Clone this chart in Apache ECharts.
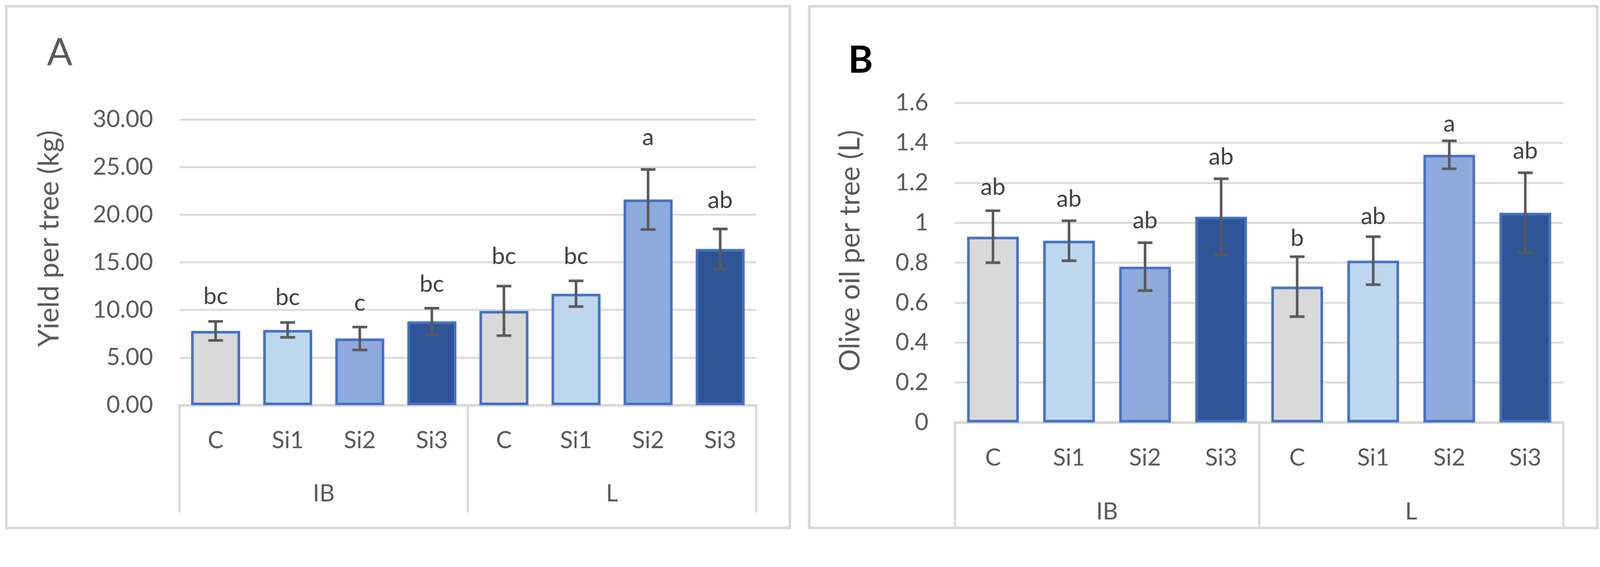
<!DOCTYPE html>
<html>
<head>
<meta charset="utf-8">
<script src="https://cdn.jsdelivr.net/npm/echarts@6/dist/echarts.min.js"></script>
<style>
  html, body { margin: 0; padding: 0; background: #ffffff; overflow: hidden; }
  #chart { width: 4340px; height: 1452px; transform-origin: 0 0; }
</style>
</head>
<body>
<div id="chart"></div>
<script>
// ---- data ----
const categories = ['C', 'Si1', 'Si2', 'Si3', 'C', 'Si1', 'Si2', 'Si3'];
const groups = ['IB', 'L'];

const yieldMean = [7.8, 7.9, 7.0, 8.8, 9.9, 11.7, 21.6, 16.4];
const yieldErr = [1.0, 0.78, 1.2, 1.38, 2.6, 1.35, 3.15, 2.1];
const yieldLetters = ['bc', 'bc', 'c', 'bc', 'bc', 'bc', 'a', 'ab'];
// value (in kg) at which each significance letter sits
const yieldLetterAt = [11.4, 11.3, 10.7, 12.7, 15.6, 15.6, 28.1, 21.5];

const oilMean = [0.93, 0.91, 0.78, 1.03, 0.68, 0.81, 1.34, 1.05];
const oilErr = [0.13, 0.10, 0.12, 0.19, 0.15, 0.12, 0.07, 0.20];
const oilLetters = ['ab', 'ab', 'ab', 'ab', 'b', 'ab', 'a', 'ab'];
// value (in L) at which each significance letter sits
const oilLetterAt = [1.177, 1.118, 1.011, 1.33, 0.922, 1.031, 1.494, 1.359];

const yieldAxis = { min: 0, max: 30, interval: 5 };
const oilAxis = { min: 0, max: 1.6, interval: 0.2 };

const panelTitles = ['A', 'B'];
const yTitles = ['Yield per tree (kg)', 'Olive oil per tree (L)'];

// ---- fit the 4340x1452 design to the actual viewport ----
const W = 4340, H = 1452;
const scale = Math.min(window.innerWidth / W, window.innerHeight / H);
const dom = document.getElementById('chart');
if (Math.abs(scale - 1) > 0.001) dom.style.transform = 'scale(' + scale + ')';

// ---- styles ----
const FONT = 'Lato, "Open Sans", sans-serif';
const treatmentColors = ['#D9D9D9', '#BDD7EE', '#8FAADC', '#2F5597'];
const BORDER_BLUE = '#4472C4';
const GRID_GRAY = '#D9D9D9';
const TICK_TEXT = '#595959';
const ERR_COLOR = '#595959';
const LETTER_COLOR = '#404040';

const chart = echarts.init(dom, null, {
  renderer: 'canvas', width: W, height: H,
  devicePixelRatio: (window.devicePixelRatio || 1) * Math.max(1, 1 / scale)
});

function barSeries(idx, means) {
  return {
    type: 'bar',
    xAxisIndex: idx * 2,
    yAxisIndex: idx,
    barWidth: '68%',
    data: means.map((v, i) => ({
      value: v,
      itemStyle: { color: treatmentColors[i % 4], borderColor: BORDER_BLUE, borderWidth: 7 }
    })),
    silent: true,
    z: 3
  };
}

function errSeries(idx, means, errs, letters, letterAt) {
  return {
    type: 'custom',
    xAxisIndex: idx * 2,
    yAxisIndex: idx,
    clip: false,
    z: 5,
    data: means.map((m, i) => [i, m - errs[i], m + errs[i], letterAt[i]]),
    renderItem: function (params, api) {
      const i = api.value(0);
      const lo = api.coord([i, api.value(1)]);
      const hi = api.coord([i, api.value(2)]);
      const lt = api.coord([i, api.value(3)]);
      const cap = 20;
      const ls = { stroke: ERR_COLOR, lineWidth: 7 };
      return {
        type: 'group',
        children: [
          { type: 'line', shape: { x1: hi[0], y1: hi[1], x2: lo[0], y2: lo[1] }, style: ls },
          { type: 'line', shape: { x1: hi[0] - cap, y1: hi[1], x2: hi[0] + cap, y2: hi[1] }, style: ls },
          { type: 'line', shape: { x1: lo[0] - cap, y1: lo[1], x2: lo[0] + cap, y2: lo[1] }, style: ls },
          {
            type: 'text',
            x: lt[0], y: lt[1],
            style: {
              text: letters[params.dataIndex],
              fill: LETTER_COLOR,
              font: '64px ' + FONT,
              align: 'center',
              verticalAlign: 'middle'
            }
          }
        ]
      };
    }
  };
}

function subAxis(gridIndex, margin) {
  return {
    type: 'category',
    gridIndex: gridIndex,
    data: categories,
    position: 'bottom',
    axisLine: { show: true, lineStyle: { color: GRID_GRAY, width: 7 } },
    axisTick: { show: false },
    axisLabel: { interval: 0, margin: margin, color: TICK_TEXT, fontSize: 64, fontFamily: FONT }
  };
}

function groupAxis(gridIndex, margin, tickLen) {
  return {
    type: 'category',
    gridIndex: gridIndex,
    data: groups,
    position: 'bottom',
    axisLine: { show: false },
    axisTick: { show: true, length: tickLen, interval: 0, lineStyle: { color: GRID_GRAY, width: 6 } },
    axisLabel: { interval: 0, margin: margin, color: TICK_TEXT, fontSize: 64, fontFamily: FONT },
    splitLine: { show: false }
  };
}

function valueAxis(gridIndex, cfg, fmt) {
  return {
    type: 'value',
    gridIndex: gridIndex,
    min: cfg.min, max: cfg.max, interval: cfg.interval,
    axisLine: { show: false },
    axisTick: { show: false },
    axisLabel: { margin: 72, color: TICK_TEXT, fontSize: 64, fontFamily: FONT, formatter: fmt },
    splitLine: { show: true, lineStyle: { color: GRID_GRAY, width: 5 } }
  };
}

const option = {
  backgroundColor: '#ffffff',
  animation: false,
  grid: [
    { left: 487, right: W - 2051, top: 324, bottom: H - 1099 },
    { left: 2590, right: W - 4240, top: 279, bottom: H - 1146 }
  ],
  xAxis: [
    subAxis(0, 64),
    groupAxis(0, 208, 291),
    subAxis(1, 64),
    groupAxis(1, 210, 284)
  ],
  yAxis: [
    valueAxis(0, yieldAxis, v => v.toFixed(2)),
    valueAxis(1, oilAxis, v => String(+v.toFixed(1)))
  ],
  series: [
    barSeries(0, yieldMean),
    errSeries(0, yieldMean, yieldErr, yieldLetters, yieldLetterAt),
    barSeries(1, oilMean),
    errSeries(1, oilMean, oilErr, oilLetters, oilLetterAt)
  ],
  graphic: [
    { type: 'rect', shape: { x: 17, y: 17, width: 2125, height: 1415 }, style: { fill: 'none', stroke: GRID_GRAY, lineWidth: 7 }, z: -1 },
    { type: 'rect', shape: { x: 2195, y: 17, width: 2137, height: 1415 }, style: { fill: 'none', stroke: GRID_GRAY, lineWidth: 7 }, z: -1 },
    { type: 'text', x: 162, y: 144, style: { text: panelTitles[0], font: '102px ' + FONT, fill: TICK_TEXT, align: 'center', verticalAlign: 'middle' } },
    { type: 'text', x: 2334, y: 164, style: { text: panelTitles[1], font: 'bold 102px ' + FONT, fill: '#000000', align: 'center', verticalAlign: 'middle' } },
    { type: 'text', x: 134, y: 647, rotation: Math.PI / 2, style: { text: yTitles[0], font: '76px ' + FONT, fill: TICK_TEXT, align: 'center', verticalAlign: 'middle' } },
    { type: 'text', x: 2307, y: 680, rotation: Math.PI / 2, style: { text: yTitles[1], font: '76px ' + FONT, fill: TICK_TEXT, align: 'center', verticalAlign: 'middle' } }
  ]
};

chart.setOption(option);
</script>
</body>
</html>
